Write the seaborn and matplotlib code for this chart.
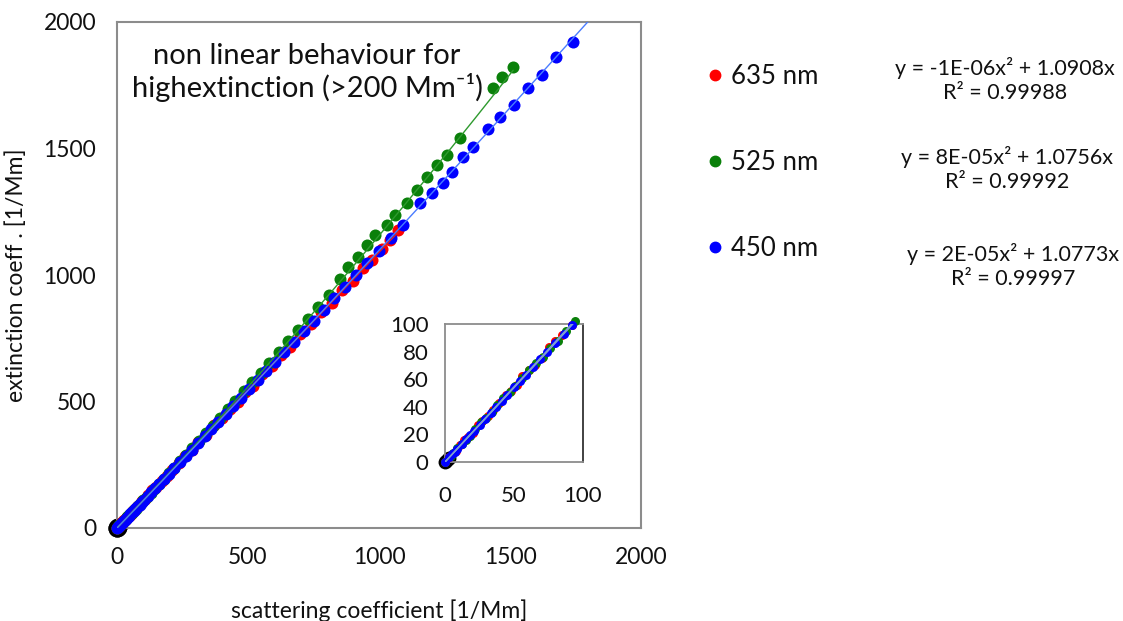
import numpy as np
import pandas as pd
import matplotlib
matplotlib.use("Agg")
import matplotlib.pyplot as plt
import seaborn as sns
from matplotlib.lines import Line2D

# ---------------- data ----------------
red_x = [0, 3, 8, 11, 14, 17, 20, 24, 27, 31, 35, 39, 44, 48, 52, 56, 61, 65, 70, 75, 80, 85, 92, 96,
         105, 120, 135, 150, 170, 190, 210, 235, 260, 285, 310, 340, 370, 400, 430, 460, 490, 520,
         555, 590, 625, 660, 700, 740, 780, 820, 860, 900, 940, 975, 1010, 1042, 1074]
red_y = [0, 3.5, 8.2, 12.4, 15.8, 18.0, 21.2, 26.8, 29.9, 33.2, 37.4, 43.1, 48.5, 51.4, 56.0, 62.3,
         67.0, 70.1, 75.5, 83.0, 88.0, 91.9, 99.0, 106.5, 116, 129, 149, 162, 187, 205, 231, 255, 286,
         308, 341, 368, 406, 434, 472, 498, 537, 563, 608, 640, 684, 716, 765, 805, 853, 890, 940,
         978, 1028, 1061, 1104, 1138, 1178]

green_x = [0, 4, 6, 9, 12, 15, 18, 22, 26, 30, 34, 38, 42, 47, 51, 56, 61, 66, 71, 76, 82, 88, 94,
           100, 114, 128, 143, 160, 178, 197, 218, 240, 263, 287, 312, 338, 365, 393, 422, 452, 483,
           515, 548, 582, 617, 653, 690, 728, 767, 808, 851, 883, 921, 953, 985, 1029, 1061, 1106,
           1144, 1182, 1220, 1258, 1309, 1436, 1471, 1512]
green_y = [0, 4.4, 6.3, 10.0, 13.4, 16.0, 19.2, 24.1, 28.8, 32.0, 36.5, 41.6, 46.5, 50.9, 55.0, 60.8,
           66.9, 71.5, 76.3, 82.7, 88.0, 94.8, 102.0, 108.9, 123.5, 139.5, 155, 174, 193, 216, 238,
           263, 289, 315, 344, 374, 404, 435, 469, 503, 540, 578, 611, 654, 694, 738, 784, 826, 875,
           921, 984, 1033, 1072, 1119, 1158, 1198, 1237, 1283, 1336, 1389, 1435, 1474, 1540, 1738,
           1784, 1824]

blue_x = [0, 3, 5, 7, 9, 12, 15, 18, 21, 25, 29, 33, 37, 41, 45, 50, 54, 59, 64, 69, 74, 80, 86, 92,
          96, 104, 117, 131, 146, 162, 180, 199, 219, 240, 262, 285, 309, 334, 360, 387, 415, 444,
          474, 505, 537, 570, 604, 639, 675, 712, 750, 789, 829, 870, 912, 955, 999, 1044, 1090,
          1156, 1201, 1245, 1277, 1322, 1360, 1417, 1462, 1516, 1567, 1621, 1676, 1739]
blue_y = [0, 3.3, 5.5, 7.4, 9.6, 13.1, 16.4, 19.5, 22.5, 27.0, 31.4, 35.7, 40.0, 44.0, 48.6, 54.1,
          58.5, 63.4, 69.0, 74.6, 80.0, 86.1, 92.5, 99.4, 104, 111.9, 126.4, 141, 157, 175, 194, 215,
          236, 260, 283, 308, 335, 362, 390, 420, 451, 482, 515, 550, 584, 620, 658, 697, 737, 777,
          820, 863, 908, 954, 1000, 1047, 1096, 1147, 1198, 1283, 1323, 1362, 1409, 1468, 1507,
          1576, 1623, 1672, 1738, 1791, 1860, 1922]

black_x = [0, 1, 2, 3]
black_y = [0, 1, 2, 3]

labels = ["635 nm", "525 nm", "450 nm"]
colors = ["#ff0000", "#0a800a", "#0000ff"]
line_colors = ["#e02020", "#2e9a2e", "#4a7cff"]
# trend-line coefficients shown on the chart (a*x^2 + b*x)
fit_a = [-1e-06, 8e-05, 2e-05]
fit_b = [1.0908, 1.0756, 1.0773]
fit_xmax = [1074, 1512, 1800]
equations = ["y = -1E-06x\u00b2 + 1.0908x\nR\u00b2 = 0.99988",
             "y = 8E-05x\u00b2 + 1.0756x\nR\u00b2 = 0.99992",
             "y = 2E-05x\u00b2 + 1.0773x\nR\u00b2 = 0.99997"]

main_ticks = [0, 500, 1000, 1500, 2000]
inset_xticks = [0, 50, 100]
inset_yticks = [0, 20, 40, 60, 80, 100]

# ---------------- build table ----------------
frames = []
for lab, xs, ys in zip(labels, [red_x, green_x, blue_x], [red_y, green_y, blue_y]):
    frames.append(pd.DataFrame({"x": xs, "y": ys, "series": lab}))
df = pd.concat(frames, ignore_index=True)
df_black = pd.DataFrame({"x": black_x, "y": black_y})

sns.set_style("white")
plt.rcParams["font.family"] = ["Lato", "DejaVu Sans"]

W, H = 1123, 621
fig = plt.figure(figsize=(W / 100, H / 100), dpi=100)

def fx(px):
    return px / W

def fy(py):
    return 1 - py / H

spine_col = "#8c8c8c"
txt_col = "#111111"

ax = fig.add_axes([fx(117), fy(528), fx(641) - fx(117), fy(22) - fy(528)])
inset = fig.add_axes([fx(445), fy(462), fx(583) - fx(445), fy(324) - fy(462)])

for a, size, bsize in [(ax, 75, 170), (inset, 42, 100)]:
    sns.scatterplot(data=df_black, x="x", y="y", color="black", s=bsize, linewidth=0,
                    ax=a, legend=False, clip_on=False, zorder=2)
    for lab, col in zip(labels, colors):
        sub = df[df["series"] == lab]
        if a is inset:
            sub = sub[(sub["x"] <= 100) & (sub["y"] <= 102)]
        sns.scatterplot(data=sub, x="x", y="y", color=col, s=size, linewidth=0,
                        ax=a, legend=False, clip_on=False, zorder=3)
    for i in range(3):
        xx = np.linspace(0, fit_xmax[i], 200)
        yy = fit_a[i] * xx ** 2 + fit_b[i] * xx
        lc = line_colors[i] if a is ax else "#7f9fcf"
        a.plot(xx, yy, color=lc, lw=1.0, zorder=4)

ax.set_xlim(0, 2000)
ax.set_ylim(0, 2000)
ax.set_xticks(main_ticks)
ax.set_yticks(main_ticks)
ax.set_xlabel("scattering coefficient [1/Mm]", fontsize=16.5, labelpad=22, color=txt_col)
ax.set_ylabel("extinction coeff . [1/Mm]", fontsize=16.5, labelpad=12, color=txt_col)
ax.tick_params(axis="both", direction="out", length=8, width=1.2, color=spine_col,
               labelsize=16.5, labelcolor=txt_col)
ax.tick_params(axis="x", pad=6)
ax.tick_params(axis="y", pad=7)
for s in ax.spines.values():
    s.set_color(spine_col)
    s.set_linewidth(1.5)

inset.set_xlim(0, 100)
inset.set_ylim(0, 100)
inset.set_xticks(inset_xticks)
inset.set_yticks(inset_yticks)
inset.set_xlabel("")
inset.set_ylabel("")
inset.tick_params(axis="both", direction="out", length=7, width=1.2, color=spine_col,
                  labelsize=16, labelcolor=txt_col)
inset.tick_params(axis="x", pad=10)
inset.tick_params(axis="y", pad=5)
for name, s in inset.spines.items():
    s.set_color("#333333" if name == "right" else spine_col)
    s.set_linewidth(1.3)

# annotation (position in pixel-based figure coords)
fig.text(fx(307), fy(43), "non linear behaviour for\nhighextinction (>200 Mm\u207b\u00b9)",
         fontsize=21, ha="center", va="top", color=txt_col, linespacing=1.18)

# legend
handles = [Line2D([], [], marker="o", ls="", color=c, markersize=7.5) for c in colors]
leg = fig.legend(handles, labels, loc="upper left", bbox_to_anchor=(fx(689), fy(51)),
                 frameon=False, fontsize=18.5, labelspacing=2.38, handletextpad=0.15,
                 handlelength=1.0, borderpad=0)
for t in leg.get_texts():
    t.set_color(txt_col)

eq_pos = [(1005, 80), (1007, 169), (1013, 266)]
for (px, py), txt in zip(eq_pos, equations):
    fig.text(fx(px), fy(py), txt, fontsize=15.5, ha="center", va="center",
             color=txt_col, linespacing=1.3)

fig.savefig("out.png", dpi=100)
